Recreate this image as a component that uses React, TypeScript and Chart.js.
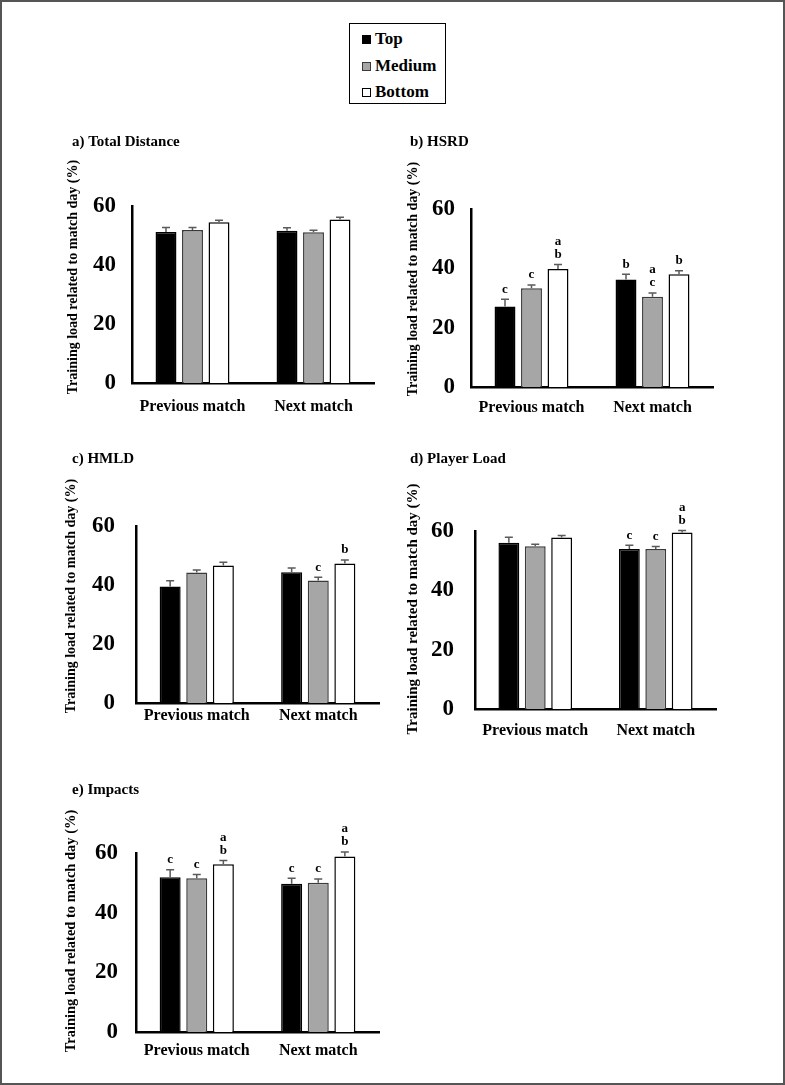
import React, { useEffect, useRef } from "react";
import { Chart, registerables } from "chart.js";

Chart.register(...registerables);

// ---------------- DATA ----------------
const categories = ["Previous match", "Next match"];
const groups = ["Top", "Medium", "Bottom"];
const yTicks = [0, 20, 40, 60];
const yAxisTitle = "Training load related to match day (%)";

// a) Total Distance  (rows: Top, Medium, Bottom; cols: Previous, Next)
const tdMeans = [[51.2, 51.6], [51.9, 51.1], [54.5, 55.4]];
const tdErrors = [[1.5, 1.0], [0.8, 0.7], [0.7, 0.8]];
const tdSig = [["", ""], ["", ""], ["", ""]];

// b) HSRD
const hsrdMeans = [[27.1, 36.2], [33.3, 30.4], [39.8, 38.0]];
const hsrdErrors = [[2.5, 1.8], [1.1, 1.3], [1.5, 1.2]];
const hsrdSig = [["c", "b"], ["c", "ac"], ["ab", "b"]];

// c) HMLD
const hmldMeans = [[39.5, 44.3], [44.2, 41.5], [46.6, 47.3]];
const hmldErrors = [[1.9, 1.5], [0.9, 1.1], [1.1, 1.2]];
const hmldSig = [["", ""], ["", "c"], ["", "b"]];

// d) Player Load
const plMeans = [[56.0, 53.9], [54.9, 53.9], [57.8, 59.5]];
const plErrors = [[1.9, 1.3], [0.6, 0.9], [0.7, 0.7]];
const plSig = [["", "c"], ["", "c"], ["", "ab"]];

// e) Impacts
const impMeans = [[51.9, 49.7], [51.5, 50.0], [56.2, 58.8]];
const impErrors = [[2.5, 1.8], [1.3, 1.3], [1.3, 1.5]];
const impSig = [["c", "c"], ["c", "c"], ["ab", "ab"]];

// ---------------- STYLE / LAYOUT ----------------
const FONT = "'Liberation Serif', 'Times New Roman', serif";
const fills = ["#000000", "#a6a6a6", "#ffffff"];
const borders = ["#000000", "#3a3a3a", "#000000"];

const panels = [
  { title: "a) Total Distance", means: tdMeans, errors: tdErrors, sig: tdSig,
    box: { left: 62, top: 120, w: 322, h: 310 }, area: { L: 132, R: 374, T: 206, B: 383 },
    titlePos: [72, 142], yTitle: [73, 277, 14], xPad: 14, yPad: 16 },
  { title: "b) HSRD", means: hsrdMeans, errors: hsrdErrors, sig: hsrdSig,
    box: { left: 400, top: 120, w: 322, h: 310 }, area: { L: 471, R: 713, T: 209, B: 387 },
    titlePos: [410, 142], yTitle: [413, 279, 14], xPad: 11, yPad: 16 },
  { title: "c) HMLD", means: hmldMeans, errors: hmldErrors, sig: hmldSig,
    box: { left: 62, top: 440, w: 322, h: 310 }, area: { L: 136, R: 379, T: 526, B: 703 },
    titlePos: [72, 459], yTitle: [71, 596, 14], xPad: 3, yPad: 21 },
  { title: "d) Player Load", means: plMeans, errors: plErrors, sig: plSig,
    box: { left: 400, top: 440, w: 322, h: 320 }, area: { L: 475, R: 716, T: 531, B: 709 },
    titlePos: [410, 459], yTitle: [413, 609, 15], xPad: 12, yPad: 21 },
  { title: "e) Impacts", means: impMeans, errors: impErrors, sig: impSig,
    box: { left: 62, top: 770, w: 322, h: 305 }, area: { L: 136, R: 379, T: 853, B: 1032 },
    titlePos: [72, 790], yTitle: [71, 931, 14.5], xPad: 9, yPad: 18 },
];

const Y_W = 60;
const X_H = 40;

const errorBarPlugin = {
  id: "errorBars",
  afterDatasetsDraw(chart: any) {
    const { ctx } = chart;
    const yScale = chart.scales.y;
    chart.data.datasets.forEach((ds: any, i: number) => {
      const meta = chart.getDatasetMeta(i);
      meta.data.forEach((el: any, j: number) => {
        const v = ds.data[j];
        const e = ds.errors[j];
        const yTop = yScale.getPixelForValue(v);
        const yErr = yScale.getPixelForValue(v + e);
        ctx.save();
        ctx.strokeStyle = "#5a5a5a";
        ctx.lineWidth = 1.5;
        ctx.beginPath();
        ctx.moveTo(el.x, yTop);
        ctx.lineTo(el.x, yErr);
        ctx.moveTo(el.x - 4, yErr);
        ctx.lineTo(el.x + 4, yErr);
        ctx.stroke();
        const letters: string = ds.sig[j] || "";
        ctx.fillStyle = "#000";
        ctx.font = `bold 13px ${FONT}`;
        ctx.textAlign = "center";
        ctx.textBaseline = "middle";
        const n = letters.length;
        for (let k = 0; k < n; k++) {
          const yy = yErr - 10 - (n - 1 - k) * 13;
          ctx.fillText(letters[k], el.x, yy);
        }
        ctx.restore();
      });
    });
  },
};

const panelTextPlugin = {
  id: "panelText",
  afterDraw(chart: any, _args: any, opts: any) {
    const { ctx } = chart;
    ctx.save();
    ctx.fillStyle = "#000";
    ctx.font = `bold 15px ${FONT}`;
    ctx.textAlign = "left";
    ctx.textBaseline = "middle";
    ctx.fillText(opts.title, opts.titleX, opts.titleY);
    ctx.translate(opts.axisX, opts.axisY);
    ctx.rotate(-Math.PI / 2);
    ctx.textAlign = "center";
    ctx.font = `bold ${opts.axisSize}px ${FONT}`;
    ctx.fillText(opts.axisTitle, 0, 0);
    ctx.restore();
  },
};

function Panel({ p }: { p: any }) {
  const ref = useRef<HTMLCanvasElement>(null);
  useEffect(() => {
    if (!ref.current) return;
    const { box, area } = p;
    const padLeft = area.L - box.left - Y_W;
    const padRight = box.left + box.w - area.R;
    const padTop = area.T - box.top;
    const padBottom = box.top + box.h - area.B - X_H;
    const chart = new Chart(ref.current, {
      type: "bar",
      data: {
        labels: categories,
        datasets: groups.map((g, i) => ({
          label: g,
          data: p.means[i],
          errors: p.errors[i],
          sig: p.sig[i],
          backgroundColor: fills[i],
          borderColor: borders[i],
          borderWidth: 1.5,
          categoryPercentage: 0.657,
          barPercentage: 0.79,
        })) as any,
      },
      options: {
        animation: false,
        responsive: false,
        devicePixelRatio: 1,
        layout: { padding: { left: padLeft, right: padRight, top: padTop, bottom: padBottom } },
        plugins: {
          legend: { display: false },
          tooltip: { enabled: false },
          title: { display: false },
          panelText: {
            title: p.title,
            titleX: p.titlePos[0] - box.left,
            titleY: p.titlePos[1] - box.top,
            axisTitle: yAxisTitle,
            axisX: p.yTitle[0] - box.left,
            axisY: p.yTitle[1] - box.top,
            axisSize: p.yTitle[2],
          },
        } as any,
        scales: {
          x: {
            grid: { display: false, drawTicks: false },
            border: { display: true, color: "#000", width: 2.5 },
            ticks: { color: "#000", padding: p.xPad, font: { family: FONT, size: 16, weight: "bold" } },
            afterFit: (s: any) => { s.height = X_H; },
          },
          y: {
            min: 0,
            max: 60,
            afterBuildTicks: (s: any) => { s.ticks = yTicks.map((v) => ({ value: v })); },
            grid: { display: false, drawTicks: false },
            border: { display: true, color: "#000", width: 2.5 },
            ticks: { color: "#000", padding: p.yPad, font: { family: FONT, size: 23, weight: "bold" } },
            afterFit: (s: any) => { s.width = Y_W; },
          },
        } as any,
      },
      plugins: [errorBarPlugin, panelTextPlugin],
    });
    return () => chart.destroy();
  }, [p]);
  return (
    <canvas
      ref={ref}
      width={p.box.w}
      height={p.box.h}
      style={{ position: "absolute", left: p.box.left, top: p.box.top, width: p.box.w, height: p.box.h }}
    />
  );
}

function Legend() {
  const item = (label: string, i: number, top: number) => (
    <div key={label} style={{ position: "absolute", left: 12, top, height: 20, display: "flex", alignItems: "center" }}>
      <div style={{ width: 7, height: 7, background: fills[i], border: `1px solid ${borders[i]}`, marginRight: 4 }} />
      <span style={{ fontFamily: FONT, fontWeight: "bold", fontSize: 17, color: "#000", lineHeight: "20px" }}>{label}</span>
    </div>
  );
  return (
    <div style={{ position: "absolute", left: 349, top: 23, width: 97, height: 81, border: "1.5px solid #000", boxSizing: "border-box", background: "#fff" }}>
      {groups.map((g, i) => item(g, i, [5, 32, 58][i]))}
    </div>
  );
}

export default function App() {
  return (
    <div style={{ position: "absolute", left: 0, top: 0, width: 785, height: 1085, background: "#fff", overflow: "hidden" }}>
      <Legend />
      {panels.map((p, i) => <Panel key={i} p={p} />)}
      <div style={{ position: "absolute", left: 0, top: 0, width: 785, height: 1085, boxSizing: "border-box", border: "2px solid #555", pointerEvents: "none" }} />
    </div>
  );
}
